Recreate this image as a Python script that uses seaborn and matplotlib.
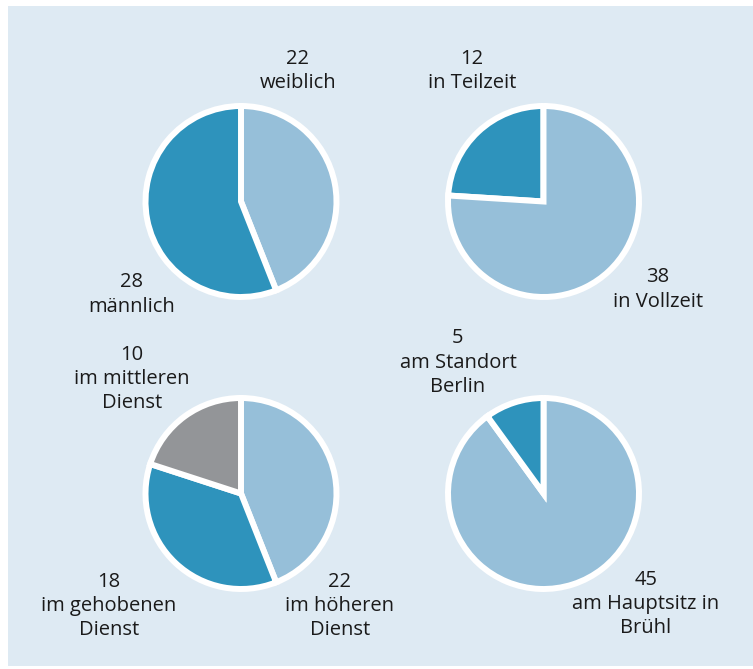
import matplotlib
matplotlib.use("Agg")
import matplotlib.pyplot as plt
import seaborn as sns
from matplotlib.patches import Rectangle

# ---- data ----
geschlecht_labels = ["22\nweiblich", "28\nmännlich"]
geschlecht_values = [22, 28]

arbeitszeit_labels = ["12\nin Teilzeit", "38\nin Vollzeit"]
arbeitszeit_values = [12, 38]

laufbahn_labels = ["22\nim höheren\nDienst", "18\nim gehobenen\nDienst", "10\nim mittleren\nDienst"]
laufbahn_values = [22, 18, 10]

standort_labels = ["45\nam Hauptsitz in\nBrühl", "5\nam Standort\nBerlin"]
standort_values = [45, 5]

# ---- style ----
sns.set_theme(style="white")
plt.rcParams["font.family"] = ["Open Sans", "DejaVu Sans"]

LIGHT = "#96bfd9"
DARK = "#2e93bc"
GREY = "#939598"
BG = "#deeaf3"

W, H = 753, 669
fig = plt.figure(figsize=(W / 100, H / 100), dpi=100)
fig.patch.set_facecolor("white")
ax = fig.add_axes([0, 0, 1, 1])

R = 95.5
wp = dict(edgecolor="white", linewidth=4.3)

def Y(y):
    return H - y

# pie 1: Geschlecht
ax.pie(geschlecht_values, colors=[LIGHT, DARK], startangle=90, counterclock=False,
       center=(241, Y(201.5)), radius=R, wedgeprops=wp)
# pie 2: Arbeitszeit
ax.pie(arbeitszeit_values, colors=[DARK, LIGHT], startangle=90, counterclock=True,
       center=(543.5, Y(201.5)), radius=R, wedgeprops=wp)
# pie 3: Laufbahn
ax.pie(laufbahn_values, colors=[LIGHT, DARK, GREY], startangle=90, counterclock=False,
       center=(241, Y(493.5)), radius=R, wedgeprops=wp)
# pie 4: Standort
ax.pie(standort_values, colors=[LIGHT, DARK], startangle=90, counterclock=False,
       center=(543.5, Y(493.5)), radius=R, wedgeprops=wp)

ax.add_patch(Rectangle((8, Y(666)), W - 8, 660, facecolor=BG, edgecolor="none", zorder=-10))

tk = dict(ha="center", va="center", multialignment="center", fontsize=14.5,
          color="#1a1a1a", linespacing=1.28)
ax.text(298, Y(71), geschlecht_labels[0], **tk)
ax.text(132, Y(294.5), geschlecht_labels[1], **tk)
ax.text(472, Y(71), arbeitszeit_labels[0], **tk)
ax.text(658, Y(289.5), arbeitszeit_labels[1], **tk)
ax.text(340, Y(606), laufbahn_labels[0], **tk)
ax.text(109, Y(606), laufbahn_labels[1], **tk)
ax.text(132, Y(379), laufbahn_labels[2], **tk)
ax.text(646, Y(604), standort_labels[0], **tk)
ax.text(458, Y(362.5), standort_labels[1], **tk)

ax.set_xlim(0, W)
ax.set_ylim(0, H)
ax.set_aspect("auto")
ax.axis("off")

fig.savefig("out.png", dpi=100, facecolor="white")
